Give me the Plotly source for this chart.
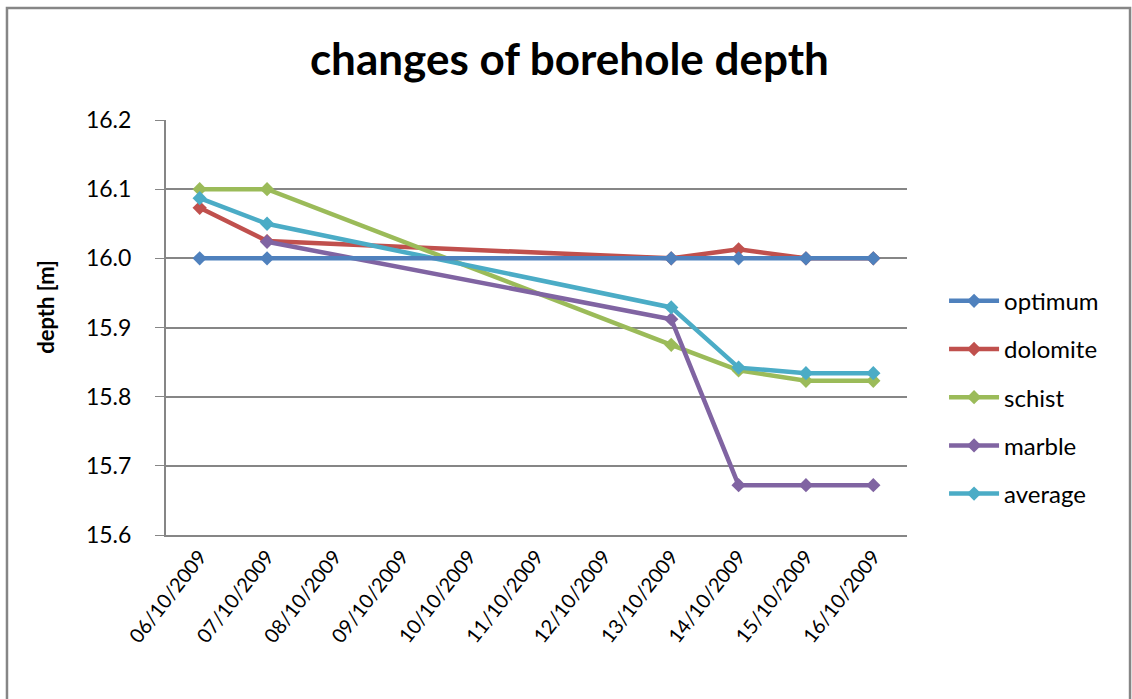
import plotly.graph_objects as go

# Measurement dates (category axis)
dates = ["06/10/2009", "07/10/2009", "08/10/2009", "09/10/2009", "10/10/2009",
         "11/10/2009", "12/10/2009", "13/10/2009", "14/10/2009", "15/10/2009",
         "16/10/2009"]

# Borehole depth [m]; None = no measurement that day
optimum  = [16.0,   16.0,   None, None, None, None, None, 16.0,   16.0,   16.0,   16.0]
dolomite = [16.073, 16.025, None, None, None, None, None, 16.0,   16.013, 16.0,   16.0]
schist   = [16.1,   16.1,   None, None, None, None, None, 15.875, 15.838, 15.823, 15.823]
marble   = [None,   16.024, None, None, None, None, None, 15.912, 15.672, 15.672, 15.672]
average  = [16.087, 16.05,  None, None, None, None, None, 15.929, 15.842, 15.834, 15.834]

series = [
    ("dolomite", dolomite, "#C0504D", 2),
    ("schist", schist, "#9BBB59", 3),
    ("marble", marble, "#8064A2", 4),
    ("average", average, "#4BACC6", 5),
    ("optimum", optimum, "#4F81BD", 1),
]

FONT = "Lato, 'Open Sans', sans-serif"

fig = go.Figure()
for name, vals, color, rank in series:
    fig.add_trace(go.Scatter(
        x=dates, y=vals, name=name, mode="lines+markers",
        connectgaps=True, legendrank=rank, legendgroup=name,
        line=dict(color=color, width=4.5),
        marker=dict(symbol="diamond", size=11, color=color),
    ))

fig.update_layout(
    width=1132, height=699,
    paper_bgcolor="white", plot_bgcolor="white",
    margin=dict(l=166, r=225, t=120, b=164),
    font=dict(family=FONT, color="black"),
    title=dict(text="<b>changes of borehole depth</b>", x=0.503, xanchor="center",
               y=0.915, yanchor="middle", font=dict(size=44, family=FONT)),
    legend=dict(x=1.05, xanchor="left", y=0.332, yanchor="middle",
                font=dict(size=24, family=FONT), tracegroupgap=14,
                itemwidth=50, bgcolor="rgba(0,0,0,0)"),
    shapes=[dict(type="rect", xref="paper", yref="paper", x0=-0.2146, x1=1.301,
                 y0=-0.5, y1=1.2696, line=dict(color="#868686", width=2.5),
                 layer="below")],
    annotations=[dict(text="<b>depth [m]</b>", xref="paper", yref="paper",
                      x=-0.162, y=0.55, xanchor="center", yanchor="middle",
                      textangle=-90, showarrow=False,
                      font=dict(size=22, family=FONT))],
)

fig.update_xaxes(
    type="category", categoryorder="array", categoryarray=dates,
    tickangle=-52, tickfont=dict(size=20, family=FONT),
    showline=True, linecolor="#868686", linewidth=2,
    showgrid=False, ticks="", range=[-0.5, 10.5],
)
fig.update_yaxes(
    range=[15.6, 16.2], dtick=0.1, tickformat=".1f",
    tickfont=dict(size=23, family=FONT),
    showgrid=True, gridcolor="#868686", gridwidth=1.5,
    showline=True, linecolor="#868686", linewidth=2,
    ticks="outside", ticklen=9, tickcolor="#868686", ticklabelstandoff=19,
    zeroline=False,
)

fig.write_html("out.html")
